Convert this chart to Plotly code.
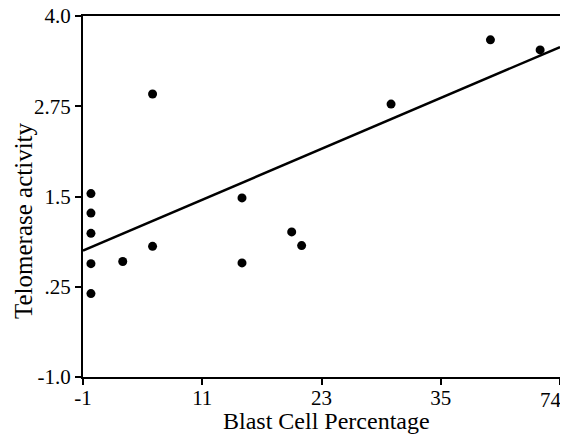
import plotly.graph_objects as go

# Data
blast_pct = [-0.2, -0.2, -0.2, -0.2, -0.2, 3, 6, 6, 15, 15, 20, 21, 30, 40, 45]
telomerase = [1.54, 1.27, 0.99, 0.57, 0.155, 0.60, 0.81, 2.92, 1.48, 0.58, 1.01, 0.82, 2.78, 3.67, 3.53]

# Regression line endpoints
fit_x = [-1, 47]
fit_y = [0.75, 3.57]

x_tickvals = [-1, 11, 23, 35, 47]
x_ticktext = ["-1", "11", "23", "35", "74"]
y_tickvals = [-1.0, 0.25, 1.5, 2.75, 4.0]
y_ticktext = ["-1.0", ".25", "1.5", "2.75", "4.0"]

x_title = "Blast Cell Percentage"
y_title = "Telomerase activity"

FONT = "Liberation Serif, Times New Roman, serif"

fig = go.Figure()
fig.add_trace(go.Scatter(x=fit_x, y=fit_y, mode="lines",
                         line=dict(color="black", width=2.5), showlegend=False,
                         hoverinfo="skip"))
fig.add_trace(go.Scatter(x=blast_pct, y=telomerase, mode="markers",
                         marker=dict(color="black", size=9), showlegend=False))

# page body has an 8px margin, so the figure is offset by 8px
fig.update_layout(
    width=560, height=428,
    margin=dict(l=75, r=8, t=8, b=59, autoexpand=False),
    paper_bgcolor="white", plot_bgcolor="white",
    font=dict(family=FONT, color="black", size=21),
)
axis_common = dict(
    showgrid=False, zeroline=False, automargin=False,
    showline=True, linecolor="black", linewidth=2, mirror=True,
    ticks="outside", ticklen=6, tickwidth=2, tickcolor="black",
    tickfont=dict(family=FONT, size=21), ticklabeloverflow="allow",
)
# last x tick label is drawn as an annotation so it can sit flush with the edge
fig.update_xaxes(range=[-1, 47], tickvals=x_tickvals,
                 ticktext=x_ticktext[:-1] + [""],
                 ticklabelstandoff=-5, **axis_common)
fig.update_yaxes(range=[-1, 4], tickvals=y_tickvals, ticktext=y_ticktext, **axis_common)

fig.add_annotation(text=x_ticktext[-1], xref="x", yref="paper", x=x_tickvals[-1], y=0,
                   xanchor="right", yanchor="top", xshift=3, yshift=-10, showarrow=False,
                   borderpad=0, font=dict(family=FONT, size=21, color="black"))
fig.add_annotation(text=x_title, xref="paper", yref="paper", x=0.51, y=0,
                   xanchor="center", yanchor="middle", yshift=-44, showarrow=False,
                   font=dict(family=FONT, size=24, color="black"))
fig.add_annotation(text=y_title, xref="paper", yref="paper", x=0, y=0.432,
                   xanchor="center", yanchor="middle", xshift=-60, textangle=-90,
                   showarrow=False, font=dict(family=FONT, size=25, color="black"))

fig.write_html("out.html")
